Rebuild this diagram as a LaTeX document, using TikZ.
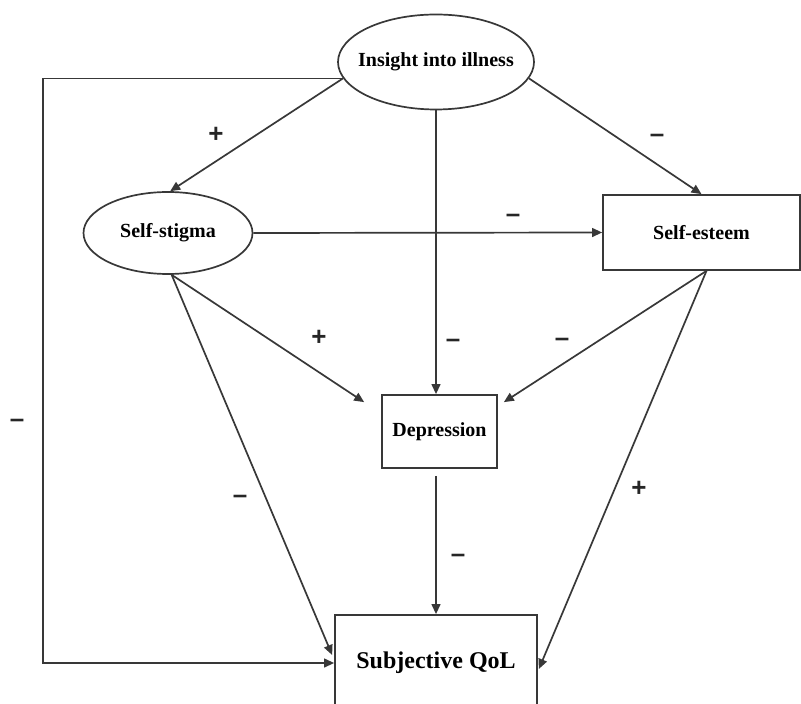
\documentclass[tikz,border=0pt]{standalone}
\usepackage{fontspec}
\setmainfont{Liberation Serif}
\newfontfamily\signfont{Liberation Sans}
\usetikzlibrary{arrows.meta,calc,shapes.geometric}
\begin{document}
\begin{tikzpicture}[x=0.5pt,y=-0.5pt,
  line/.style={draw=black!78, line width=0.85pt},
  arr/.style={line, -{Triangle[length=5pt,width=4.4pt]}},
  lbl/.style={font=\signfont\bfseries\fontsize{13}{13}\selectfont, text=black!85, inner sep=0pt},
  elli/.style={ellipse, line, inner sep=0pt, font=\bfseries\fontsize{10}{12}\selectfont},
  boxn/.style={rectangle, line, inner sep=0pt, font=\bfseries\fontsize{10}{12}\selectfont}]
\path[use as bounding box] (0,0) rectangle (801,704);
\clip (0,0) rectangle (801,704);
\node[elli, inner xsep=-6pt, minimum width=98pt, minimum height=47.5pt] (ins) at (436,62) {Insight into illness};
\node[elli, minimum width=84.5pt, minimum height=41pt] (sst) at (168,233) {Self-stigma};
\node[boxn, minimum width=98.5pt, minimum height=37.5pt] (ses) at (701.5,232.5) {Self-esteem};
\node[boxn, minimum width=57.5pt, minimum height=36.5pt] (dep) at (439.5,431.5) {Depression};
\node[boxn, minimum width=101pt, minimum height=48pt, font=\bfseries\fontsize{12}{14}\selectfont] (qol) at (436,663) {Subjective QoL};
\coordinate (lft) at (43,0);
% connectors
\draw[arr] (ins.190) -- (ins.190 -| lft) -- (lft |- qol.west) -- (qol.west);
\draw[arr] (ins.190) -- (sst.87);
\draw[arr] (ins.south) -- (ins.south |- dep.north);
\draw[arr] (ins.350) -- (ses.north);
\draw[arr] (sst.east) -- (ses.west);
\draw[arr] (sst.-85) -- ($(dep.north west)+(-17,8)$);
\draw[arr] (sst.-85) -- ($(qol.west)+(-2,-8)$);
\draw[arr] ($(ses.south)+(5,0)$) -- ($(dep.north east)+(6,8)$);
\draw[arr] ($(ses.south)+(5,0)$) -- ($(qol.east)+(1,6)$);
\draw[arr] ($(dep.south -| qol.north)+(0,7)$) -- (qol.north);
% labels
\node[lbl] (l1) at (216,135) {+};
\node[lbl] (l2) at (657,138) {–};
\node[lbl] (l3) at (513,218) {–};
\node[lbl] (l4) at (319,338) {+};
\node[lbl] (l5) at (453,343) {–};
\node[lbl] (l6) at (562,342) {–};
\node[lbl] (l7) at (17,423) {–};
\node[lbl] (l8) at (240,499) {–};
\node[lbl] (l9) at (639,489) {+};
\node[lbl] (l10) at (458,558) {–};
\end{tikzpicture}
\end{document}
